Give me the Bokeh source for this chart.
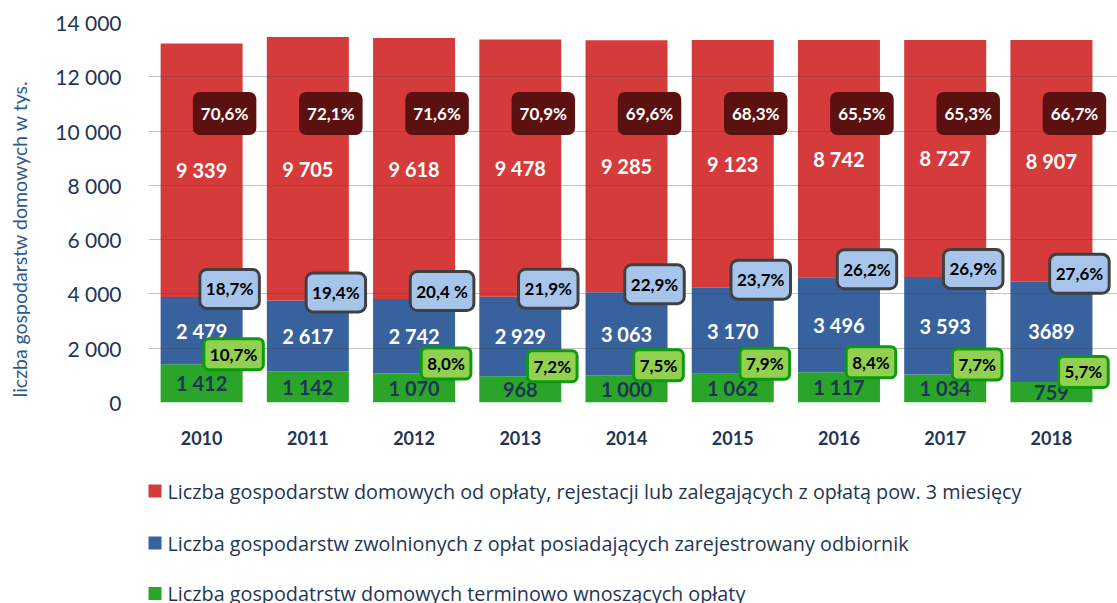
import math
from bokeh.plotting import figure
from bokeh.layouts import column, row
from bokeh.models import ColumnDataSource, Range1d, FixedTicker, Label
from bokeh.core.properties import value
from bokeh.embed import file_html
from bokeh.resources import INLINE

years = ["2010", "2011", "2012", "2013", "2014", "2015", "2016", "2017", "2018"]
green = [1412, 1142, 1070, 968, 1000, 1062, 1117, 1034, 759]
blue = [2479, 2617, 2742, 2929, 3063, 3170, 3496, 3593, 3689]
red = [9339, 9705, 9618, 9478, 9285, 9123, 8742, 8727, 8907]

green_labels = ["1 412", "1 142", "1 070", "968", "1 000", "1 062", "1 117", "1 034", "759"]
blue_labels = ["2 479", "2 617", "2 742", "2 929", "3 063", "3 170", "3 496", "3 593", "3689"]
red_labels = ["9 339", "9 705", "9 618", "9 478", "9 285", "9 123", "8 742", "8 727", "8 907"]

red_pct = ["70,6%", "72,1%", "71,6%", "70,9%", "69,6%", "68,3%", "65,5%", "65,3%", "66,7%"]
blue_pct = ["18,7%", "19,4%", "20,4 %", "21,9%", "22,9%", "23,7%", "26,2%", "26,9%", "27,6%"]
green_pct = ["10,7%", "", "8,0%", "7,2%", "7,5%", "7,9%", "8,4%", "7,7%", "5,7%"]

y_ticks = [0, 2000, 4000, 6000, 8000, 10000, 12000, 14000]
y_tick_labels = ["0", "2 000", "4 000", "6 000", "8 000", "10 000", "12 000", "14 000"]

# legend entries, top to bottom
legend_names = [
    "Liczba gospodarstw domowych od opłaty, rejestacji lub zalegających z opłatą pow. 3 miesięcy",
    "Liczba gospodarstw zwolnionych z opłat posiadających zarejestrowany odbiornik",
    "Liczba gospodatrstw domowych terminowo wnoszących opłaty",
]
y_title = "liczba gospodarstw domowych w tys."

C_GREEN = "#2AA52A"
C_BLUE = "#37629E"
C_RED = "#D63B3C"
legend_colors = [C_RED, C_BLUE, C_GREEN]
NAVY = "#1F3554"
FONT = "Lato"
FONT2 = "Open Sans"

# each year occupies one unit on the x axis, centred at index + 0.5
xpos = [i + 0.5 for i in range(len(years))]
g_mid = [g / 2 for g in green]
b_mid = [g + b / 2 for g, b in zip(green, blue)]
r_mid = [g + b + r / 2 for g, b, r in zip(green, blue, red)]
g_top = list(green)
b_top = [g + b for g, b in zip(green, blue)]

src = ColumnDataSource(dict(
    x=xpos, green=green, blue=blue, red=red,
    g_mid=g_mid, b_mid=b_mid, r_mid=r_mid,
    gl=green_labels, bl=blue_labels, rl=red_labels,
))

# ---------------- main chart ----------------
p = figure(x_range=Range1d(0, len(years) + 0.122), y_range=Range1d(0, 14000),
           width=1077, height=448, output_backend="svg", toolbar_location=None,
           min_border_left=108, min_border_right=0, min_border_top=22, min_border_bottom=46)
p.outline_line_color = None
p.background_fill_color = "white"

rs = p.vbar_stack(["green", "blue", "red"], x="x", width=0.772, source=src,
                  color=[C_GREEN, C_BLUE, C_RED], line_color=None)

# grid drawn over the bars
p.ygrid.level = "guide"
p.ygrid.grid_line_color = "#404040"
p.ygrid.grid_line_alpha = 0.3
p.xgrid.grid_line_color = None

p.yaxis.ticker = FixedTicker(ticks=y_ticks)
p.yaxis.major_label_overrides = {t: l for t, l in zip(y_ticks, y_tick_labels)}
p.yaxis.axis_line_color = None
p.yaxis.major_tick_line_color = None
p.yaxis.minor_tick_line_color = None
p.yaxis.major_label_standoff = 21
p.yaxis.major_label_text_font = FONT
p.yaxis.major_label_text_font_size = "21px"
p.yaxis.major_label_text_color = NAVY

p.xaxis.ticker = FixedTicker(ticks=xpos)
p.xaxis.major_label_overrides = {x: y for x, y in zip(xpos, years)}
p.xaxis.axis_line_color = None
p.xaxis.major_tick_line_color = None
p.xaxis.minor_tick_line_color = None
p.xaxis.major_label_standoff = 22
p.xaxis.major_label_text_font = FONT
p.xaxis.major_label_text_font_style = "bold"
p.xaxis.major_label_text_font_size = "18px"
p.xaxis.major_label_text_color = NAVY

# value labels inside segments
for ycol, tcol, col in [("g_mid", "gl", NAVY), ("b_mid", "bl", "white"), ("r_mid", "rl", "white")]:
    r = p.text(x="x", y=ycol, text=tcol, source=src, text_align="center",
               text_baseline="middle", text_font=value(FONT), text_font_style="bold",
               text_font_size="20px", text_color=col)
    r.level = "annotation"

# percentage boxes
for i in range(len(years)):
    xc = xpos[i]
    p.add_layout(Label(x=xc, y=10650, text=red_pct[i], x_offset=23,
                       text_align="center", text_baseline="middle",
                       text_font=FONT, text_font_style="bold", text_font_size="17px",
                       text_color="white", background_fill_color="#5C1111",
                       border_line_color=None, padding=(8, 11), border_radius=7))
    p.add_layout(Label(x=xc, y=b_top[i], text=blue_pct[i], x_offset=28, y_offset=8,
                       text_align="center", text_baseline="middle",
                       text_font=FONT, text_font_style="bold", text_font_size="17px",
                       text_color="black", background_fill_color="#A7C5EA",
                       border_line_color="#404040", border_line_width=3,
                       padding=(6, 9), border_radius=7))
    if green_pct[i]:
        p.add_layout(Label(x=xc, y=g_top[i], text=green_pct[i], x_offset=32, y_offset=10,
                           text_align="center", text_baseline="middle",
                           text_font=FONT, text_font_style="bold", text_font_size="17px",
                           text_color="black", background_fill_color="#92D050",
                           border_line_color="#0E9A0E", border_line_width=3,
                           padding=(6, 5), border_radius=5))

# ---------------- y-axis title strip (pixel coordinates) ----------------
tf = figure(width=40, height=448, output_backend="svg", toolbar_location=None,
            x_range=Range1d(0, 40), y_range=Range1d(0, 448), x_axis_type=None, y_axis_type=None,
            min_border=0, outline_line_color=None)
tf.xgrid.grid_line_color = None
tf.ygrid.grid_line_color = None
tf.text(x=[19], y=[448 - 255], text=[y_title], angle=math.pi / 2, text_align="center",
        text_baseline="middle", text_font=value(FONT), text_font_size="19.5px",
        text_color="#2E5A8E")

# ---------------- legend strip (pixel coordinates) ----------------
LEG_H = 155
leg = figure(width=1117, height=LEG_H, output_backend="svg", toolbar_location=None,
             x_range=Range1d(0, 1117), y_range=Range1d(0, LEG_H), x_axis_type=None,
             y_axis_type=None, min_border=0, outline_line_color=None)
leg.xgrid.grid_line_color = None
leg.ygrid.grid_line_color = None
item_y = [LEG_H - 42.5, LEG_H - 94.5, LEG_H - 145]
leg.rect(x=[154.5] * 3, y=item_y, width=13, height=13, width_units="screen",
         height_units="screen", fill_color=legend_colors, line_color=None)
leg.text(x=[167] * 3, y=item_y, text=legend_names, text_align="left", text_baseline="middle",
         text_font=value(FONT2), text_font_size="19.8px", text_color=NAVY)

layout = column(row(tf, p, spacing=0), leg, spacing=0)
open("out.html", "w").write(file_html(layout, INLINE))
